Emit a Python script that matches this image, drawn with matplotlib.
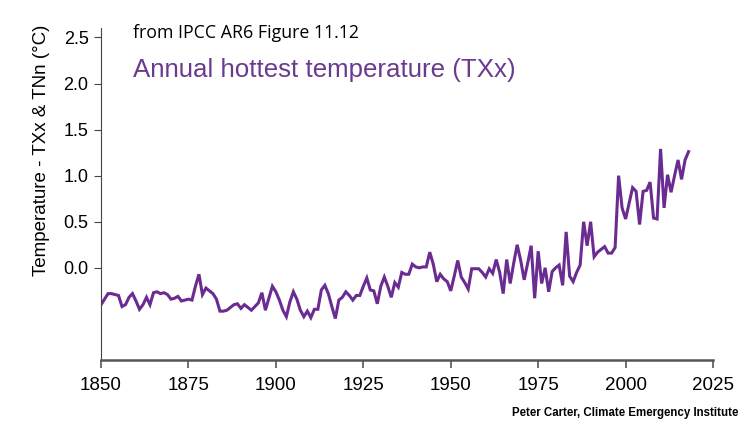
import matplotlib.pyplot as plt
import numpy as np
from matplotlib import font_manager

years = np.arange(1850, 2019)
txx = [
    -0.40, -0.34, -0.28, -0.28, -0.29, -0.30, -0.42, -0.40, -0.32, -0.28,   # 1850s
    -0.36, -0.45, -0.40, -0.32, -0.40, -0.27, -0.26, -0.28, -0.27, -0.29,   # 1860s
    -0.34, -0.33, -0.31, -0.36, -0.35, -0.34, -0.35, -0.20, -0.07, -0.29,   # 1870s
    -0.22, -0.25, -0.28, -0.34, -0.47, -0.47, -0.46, -0.43, -0.40, -0.39,   # 1880s
    -0.44, -0.40, -0.43, -0.46, -0.42, -0.38, -0.27, -0.46, -0.33, -0.20,   # 1890s
    -0.26, -0.35, -0.46, -0.53, -0.37, -0.26, -0.34, -0.46, -0.53, -0.47,   # 1900s
    -0.54, -0.45, -0.45, -0.24, -0.19, -0.28, -0.42, -0.55, -0.35, -0.32,   # 1910s
    -0.26, -0.30, -0.35, -0.30, -0.30, -0.20, -0.11, -0.24, -0.25, -0.39,   # 1920s
    -0.20, -0.10, -0.20, -0.32, -0.16, -0.21, -0.05, -0.07, -0.07, 0.04,    # 1930s
    0.01, 0.00, 0.01, 0.01, 0.17, 0.04, -0.15, -0.07, -0.12, -0.15,         # 1940s
    -0.25, -0.09, 0.08, -0.10, -0.16, -0.23, -0.01, -0.01, -0.01, -0.05,    # 1950s
    -0.10, -0.01, -0.06, 0.09, -0.05, -0.28, 0.09, -0.17, 0.05, 0.25,       # 1960s
    0.08, -0.13, 0.05, 0.24, -0.33, 0.18, -0.17, 0.00, -0.26, -0.04,        # 1970s
    0.00, 0.03, -0.19, 0.39, -0.09, -0.15, -0.05, 0.03, 0.50, 0.24,         # 1980s
    0.50, 0.12, 0.17, 0.20, 0.23, 0.16, 0.16, 0.22, 1.00, 0.65,             # 1990s
    0.53, 0.70, 0.87, 0.83, 0.47, 0.83, 0.84, 0.93, 0.54, 0.53,             # 2000s
    1.29, 0.65, 1.01, 0.82, 1.00, 1.17, 0.96, 1.17, 1.26,                   # 2010s
]

y_ticks = [0.0, 0.5, 1.0, 1.5, 2.0, 2.5]
x_ticks = [1850, 1875, 1900, 1925, 1950, 1975, 2000, 2025]

installed = {f.name for f in font_manager.fontManager.ttflist}
narrow = 'Liberation Sans Narrow' if 'Liberation Sans Narrow' in installed else 'Liberation Sans'

purple = '#6a2c91'

fig = plt.figure(figsize=(7.5, 4.32), dpi=100, facecolor='white')
ax = fig.add_axes([0.1347, 0.1667, 0.8160, 0.768])

ax.plot(years, txx, color=purple, linewidth=2.2, solid_joinstyle='miter')

ax.set_xlim(1850, 2025)
ax.set_ylim(-1.0, 2.6)
ax.set_yticks(y_ticks)
ax.set_yticklabels(['%.1f' % v for v in y_ticks], fontsize=13, family='Liberation Sans')
ax.set_xticks(x_ticks)
ax.set_xticklabels([str(v) for v in x_ticks], fontsize=13.5, family=narrow)

ax.spines['top'].set_visible(False)
ax.spines['right'].set_visible(False)
ax.spines['left'].set_color('#444444')
ax.spines['left'].set_linewidth(0.8)
ax.spines['bottom'].set_color('#555555')
ax.spines['bottom'].set_linewidth(1.8)
ax.tick_params(axis='y', length=5, width=0.8, color='#444444', pad=4)
ax.tick_params(axis='x', length=6, width=1.2, color='#555555', pad=6)

fig.text(42 / 750, 1 - 150 / 432, 'Temperature - TXx & TNn (°C)', rotation=90,
         ha='center', va='center', fontsize=13.5, family='Liberation Sans')
fig.text(133 / 750, 1 - 33 / 432, 'from IPCC AR6 Figure 11.12', ha='left', va='center',
         fontsize=12.8, family='Open Sans', color='black')
fig.text(133 / 750, 1 - 70 / 432, 'Annual hottest temperature (TXx)', ha='left', va='center',
         fontsize=18.6, family='Liberation Sans', color='#6b3a8e')
fig.text(738 / 750, 1 - 413 / 432, 'Peter Carter, Climate Emergency Institute', ha='right',
         va='center', fontsize=8.3, fontweight='bold', family=narrow, color='black')

fig.savefig('out.png', dpi=100)
